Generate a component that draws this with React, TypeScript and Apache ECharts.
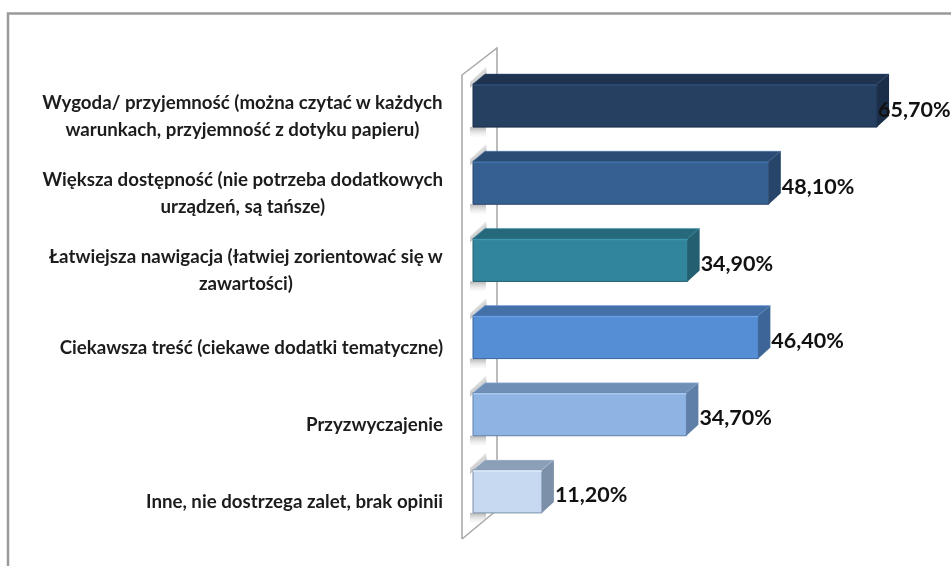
import React, { useEffect, useRef } from "react";
import * as echarts from "echarts";

const categories = [
  "Wygoda/ przyjemność (można czytać w każdych\nwarunkach, przyjemność z dotyku papieru)",
  "Większa dostępność (nie potrzeba dodatkowych\nurządzeń, są tańsze)",
  "Łatwiejsza nawigacja (łatwiej zorientować się w\nzawartości)",
  "Ciekawsza treść (ciekawe dodatki tematyczne)",
  "Przyzwyczajenie",
  "Inne, nie dostrzega zalet, brak opinii",
];
const values = [65.7, 48.1, 34.9, 46.4, 34.7, 11.2];
const frontColors = ["#254061", "#376092", "#31859c", "#558ed5", "#8eb4e3", "#c6d9f1"];
const highlightColors = ["#2f5178", "#4272aa", "#3d97b0", "#6aa1e4", "#a6c7ee", "#dbe8f8"];
const topColors = ["#1f3350", "#2b4c75", "#27697c", "#4470a9", "#6f8fb6", "#8c9fb8"];
const sideColors = ["#1b2e49", "#274569", "#235f70", "#3d6598", "#5f7fa8", "#7c90aa"];
const fmt = (v: number) => v.toFixed(2).replace(".", ",") + "%";

const DX = 12;
const DY = 10;
const FONT = "Lato, Carlito, sans-serif";

function renderItem(params: any, api: any) {
  const i = params.dataIndex;
  const v = api.value(0);
  const [x1, yc] = api.coord([v, i]);
  const [x0] = api.coord([0, i]);
  const y0 = yc - 21.5;
  const y1 = yc + 21.5;
  const fade = (a: number[], b: number[], from: string) =>
    new echarts.graphic.LinearGradient(a[0], a[1], b[0], b[1], [
      { offset: 0, color: from },
      { offset: 1, color: "rgba(225,225,225,0.1)" },
    ]);
  return {
    type: "group",
    children: [
      {
        type: "polygon",
        shape: { points: [[x0 - 3, y0 + 4], [x0 - 3, y0 - 2], [x0 + 13, y0 - 17], [x0 + 14, y0 - 9], [x0, y0 + 1]] },
        style: { fill: fade([0.8, 1], [0.2, 0], "rgba(105,105,105,0.9)") },
      },
      {
        type: "rect",
        shape: { x: x0 - 3, y: y1, width: 16, height: 10 },
        style: { fill: fade([0, 0], [0, 1], "rgba(130,130,130,0.6)") },
      },
      {
        type: "polygon",
        shape: { points: [[x0, y0], [x0 + DX, y0 - DY], [x1 + DX, y0 - DY], [x1, y0]] },
        style: { fill: topColors[i], stroke: highlightColors[i], lineWidth: 0.5 },
      },
      {
        type: "polygon",
        shape: { points: [[x1, y0], [x1 + DX, y0 - DY], [x1 + DX, y1 - DY - 1], [x1, y1]] },
        style: { fill: sideColors[i] },
      },
      {
        type: "rect",
        shape: { x: x0, y: y0, width: x1 - x0, height: y1 - y0 },
        style: { fill: frontColors[i], stroke: sideColors[i], lineWidth: 1 },
      },
      {
        type: "line",
        shape: { x1: x0, y1: y0 + 1, x2: x1, y2: y0 + 1 },
        style: { stroke: highlightColors[i], lineWidth: 1.5 },
      },
      {
        type: "text",
        style: {
          x: i === 0 ? x1 + 1 : x1 + DX + 1,
          y: yc + 3,
          text: fmt(v),
          fill: "#111",
          fontFamily: FONT,
          fontSize: 21.5,
          fontWeight: 700,
          align: "left",
          verticalAlign: "middle",
        },
      },
    ],
  };
}

export default function App() {
  const ref = useRef<HTMLDivElement>(null);
  useEffect(() => {
    document.body.style.margin = "0";
    const chart = echarts.init(ref.current!, undefined, { renderer: "svg" });
    chart.setOption({
      animation: false,
      backgroundColor: "#fff",
      grid: [
        { left: 473, top: 67, width: 430.5, height: 463 },
        { left: 473, top: 77, width: 430.5, height: 463 },
      ],
      xAxis: [
        { type: "value", min: 0, max: 70, show: false, gridIndex: 0 },
        { type: "value", min: 0, max: 70, show: false, gridIndex: 1 },
      ],
      yAxis: [
        { type: "category", inverse: true, data: categories, show: false, gridIndex: 0 },
        {
          type: "category",
          inverse: true,
          data: categories,
          gridIndex: 1,
          axisLine: { show: false },
          axisTick: { show: false },
          axisLabel: {
            margin: 30,
            align: "right",
            formatter: (s: string) =>
              s.split("\n").map((l) => `{c|${l}}`).join("\n"),
            rich: {
              c: {
                align: "center",
                color: "#1c1c1c",
                fontFamily: FONT,
                fontWeight: 700,
                fontSize: 18.7,
                lineHeight: 27,
              },
            },
          },
        },
      ],
      graphic: [
        {
          type: "polyline",
          z: -1,
          shape: { points: [[8, 566], [8, 13.5], [951, 13.5]] },
          style: { stroke: "#9a9a9a", lineWidth: 2.5, fill: "none" },
        },
        {
          type: "polyline",
          z: -1,
          shape: { points: [[462, 539], [462, 75], [497, 48], [497, 510], [462, 539]] },
          style: { stroke: "#a6a6a6", lineWidth: 1.5, fill: "none" },
        },
      ],
      series: [
        {
          type: "custom",
          renderItem,
          xAxisIndex: 0,
          yAxisIndex: 0,
          data: values.map((v, i) => [v, i]),
          encode: { x: 0, y: 1 },
          clip: false,
          z: 5,
        },
      ],
    });
    return () => chart.dispose();
  }, []);
  return <div ref={ref} style={{ width: 951, height: 566, filter: "blur(0.5px)" }} />;
}
